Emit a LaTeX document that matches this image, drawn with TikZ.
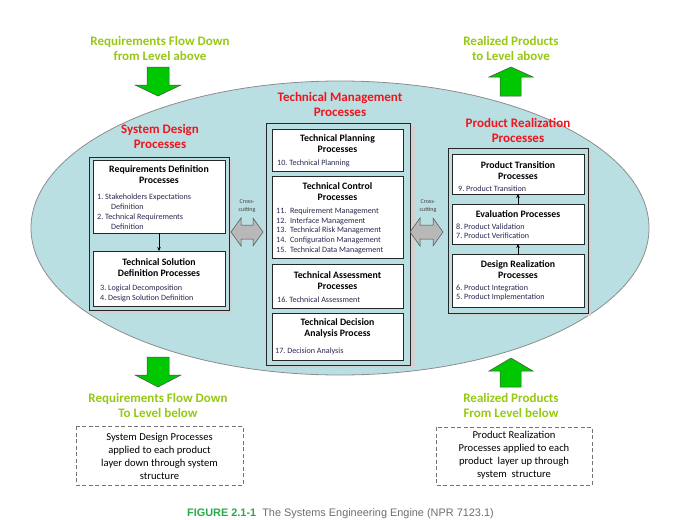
\documentclass[tikz,border=0pt]{standalone}
\usepackage{fontspec}
\setmainfont{Carlito}
\newfontfamily\capfont{Liberation Sans}
\usetikzlibrary{arrows.meta}
\definecolor{engine}{RGB}{186,223,226}
\definecolor{flowgreen}{RGB}{150,200,20}
\definecolor{arrowgreen}{RGB}{0,200,0}
\definecolor{titlered}{RGB}{240,20,30}
\definecolor{itemblue}{RGB}{40,40,80}
\definecolor{capgreen}{RGB}{40,170,70}
\definecolor{capgray}{RGB}{110,110,110}
\tikzset{
  flowtext/.style={text=flowgreen, font=\fontsize{13}{15}\selectfont\bfseries, align=center},
  grouptitle/.style={text=titlered, font=\fontsize{13}{15}\selectfont\bfseries, align=center},
  container/.style={draw=black!85, line width=0.8pt, fill=engine},
  procbox/.style={draw=black!85, line width=0.8pt, fill=white},
  head/.style={font=\fontsize{9.8}{11}\selectfont\bfseries, align=center, inner sep=0pt},
  item/.style={font=\fontsize{8.1}{9.6}\selectfont, text=itemblue, anchor=west, inner sep=0pt},
  bigarrow/.style={fill=arrowgreen, draw=black!70, line width=0.5pt},
  crossarrow/.style={fill=black!28, draw=black!70, line width=0.5pt},
  crosstext/.style={font=\fontsize{6}{7.5}\selectfont, align=center, text=black!75},
  dashbox/.style={draw=black!55, dashed, dash pattern=on 4pt off 2.5pt, line width=1pt},
  boxtext/.style={font=\fontsize{10.6}{13}\selectfont, align=center},
  link/.style={-{Stealth[length=4pt,width=3.5pt]}, line width=0.6pt}
}
\begin{document}
\begin{tikzpicture}[x=1pt,y=-1pt]
\useasboundingbox (0,0) rectangle (700,519);

% engine ellipse
\fill[engine, draw=black!45, line width=0.8pt] (340,228) ellipse [x radius=309, y radius=147];

% flow annotations above and below
\node[flowtext] (reqdowntop) at (160,48) {Requirements Flow Down\\from Level above};
\node[flowtext] (realuptop) at (511,48) {Realized Products\\to Level above};
\node[flowtext] (reqdownbot) at (158,405) {Requirements Flow Down\\To Level below};
\node[flowtext] (realupbot) at (511,405) {Realized Products\\From Level below};

% green flow arrows
\draw[bigarrow] (147,67) -- (169,67) -- (169,85) -- (181,85) -- (158,96) -- (135,85) -- (147,85) -- cycle;
\draw[bigarrow] (500,96) -- (521,96) -- (521,77) -- (533,77) -- (511,67) -- (489,77) -- (500,77) -- cycle;
\draw[bigarrow] (147,357) -- (169,357) -- (169,375) -- (181,375) -- (158,387) -- (135,375) -- (147,375) -- cycle;
\draw[bigarrow] (500,387) -- (521,387) -- (521,371) -- (533,371) -- (511,358) -- (489,371) -- (500,371) -- cycle;

% group titles
\node[grouptitle] (sdtitle) at (160,136) {System Design\\Processes};
\node[grouptitle] (tmtitle) at (340,104) {Technical Management\\Processes};
\node[grouptitle] (prtitle) at (518,130) {Product Realization\\Processes};

% group containers (with a soft shadow)
\fill[black!18] (92,160) rectangle (232,313);
\fill[black!18] (268,126) rectangle (415,368);
\fill[black!18] (450,151) rectangle (591,316);
\draw[container] (89,157) rectangle (229,310);
\draw[container] (266,123) rectangle (410,365);
\draw[container] (448,148) rectangle (588,313);

% --- System design processes
\draw[procbox] (93,160) rectangle (225,233);
\coordinate (reqdefbot) at (159,233);
\node[head] (reqdefhead) at (159,175) {Requirements Definition\\Processes};
\node[item] (i1) at (97,197) {1.\ Stakeholders Expectations};
\node[item] (i1b) at (111,207) {Definition};
\node[item] (i2) at (97,217) {2.\ Technical Requirements};
\node[item] (i2b) at (111,227) {Definition};

\draw[procbox] (93,251) rectangle (225,306);
\coordinate (techsoltop) at (159,251);
\node[head] (techsolhead) at (159,268) {Technical Solution\\Definition Processes};
\node[item] (i3) at (100,288) {3.\ Logical Decomposition};
\node[item] (i4) at (100,298) {4.\ Design Solution Definition};
\draw[link] (reqdefbot) -- (techsoltop);

% --- Technical management processes
\draw[procbox] (272,129) rectangle (403,171);
\node[head] (tphead) at (337.5,143.5) {Technical Planning\\Processes};
\node[item] (i10) at (277,163) {10.\ Technical Planning};

\draw[procbox] (272,176) rectangle (403,258);
\node[head] (tchead) at (337.5,192) {Technical Control\\Processes};
\node[item] (i11) at (276,211) {11.\ \ Requirement Management};
\node[item] (i12) at (276,221) {12.\ \ Interface Management};
\node[item] (i13) at (276,230.5) {13.\ \ Technical Risk Management};
\node[item] (i14) at (276,240.5) {14.\ \ Configuration Management};
\node[item] (i15) at (276,250) {15.\ \ Technical Data Management};

\draw[procbox] (272,264) rectangle (403,308);
\node[head] (tahead) at (337.5,281) {Technical Assessment\\Processes};
\node[item] (i16) at (277,300) {16.\ Technical Assessment};

\draw[procbox] (272,313) rectangle (403,360);
\node[head] (tdhead) at (337.5,328.5) {Technical Decision\\Analysis Process};
\node[item] (i17) at (275,351) {17.\ Decision Analysis};

% --- Product realization processes
\draw[procbox] (452,154) rectangle (584,194);
\coordinate (ptbot) at (518,194);
\node[head] (pthead) at (518,171) {Product Transition\\Processes};
\node[item] (i9) at (458,189) {9.\ Product Transition};

\draw[procbox] (452,204) rectangle (584,244);
\coordinate (evtop) at (518,204);
\coordinate (evbot) at (518,244);
\node[head] (evhead) at (518,214) {Evaluation Processes};
\node[item] (i8) at (456,227) {8.\ Product Validation};
\node[item] (i7) at (456,236) {7.\ Product Verification};

\draw[procbox] (452,254) rectangle (584,307);
\coordinate (drtop) at (518,254);
\node[head] (drhead) at (518,270) {Design Realization\\Processes};
\node[item] (i6) at (456,288) {6.\ Product Integration};
\node[item] (i5) at (456,297) {5.\ Product Implementation};

\draw[link] (drtop) -- (evbot);
\draw[link] (evtop) -- (ptbot);

% cross-cutting double arrows
\draw[crossarrow] (231,232) -- (241,218) -- (241,225) -- (253,225) -- (253,218) -- (263,232)
  -- (253,246) -- (253,239) -- (241,239) -- (241,246) -- cycle;
\node[crosstext] (ccl) at (247,206) {Cross-\\cutting};
\draw[crossarrow] (410,232) -- (420,218) -- (420,225) -- (433,225) -- (433,218) -- (443,232)
  -- (433,246) -- (433,239) -- (420,239) -- (420,246) -- cycle;
\node[crosstext] (ccr) at (428,206) {Cross-\\cutting};

% notes below the engine
\draw[dashbox] (76,426) rectangle (243,485);
\node[boxtext] (sdnote) at (159.5,456) {System Design Processes\\applied to each product\\layer down through system\\structure};
\draw[dashbox] (436,427) rectangle (592,485);
\node[boxtext] (prnote) at (514,455) {Product Realization\\Processes applied to each\\product\ \ layer up through\\system\ \ structure};

% caption
\node[anchor=west, inner sep=0pt, font=\capfont\fontsize{10.9}{12}\selectfont] (caption) at (187,514)
  {\textcolor{capgreen}{\bfseries FIGURE 2.1-1}\ \ \textcolor{capgray}{The Systems Engineering Engine (NPR 7123.1)}};
\end{tikzpicture}
\end{document}
